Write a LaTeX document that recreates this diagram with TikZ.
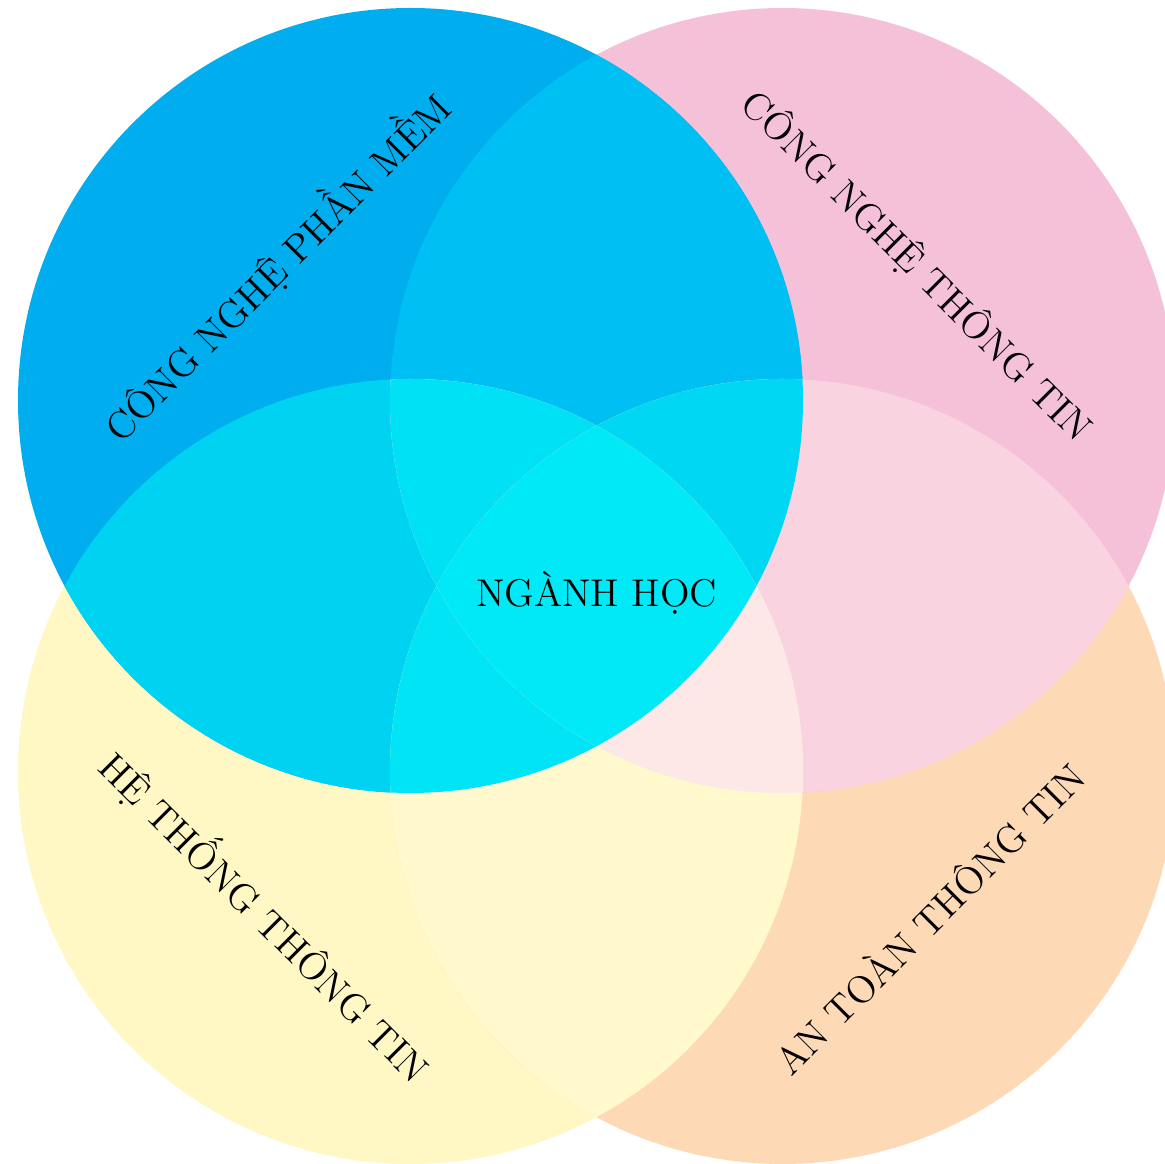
\documentclass[tikz,border=0pt]{standalone}
\usepackage{tikz}
\usetikzlibrary{calc}

\definecolor{cB}{HTML}{00ADEE}
\definecolor{cP}{HTML}{F5C1D9}
\definecolor{cY}{HTML}{FFF8C4}
\definecolor{cO}{HTML}{FDD9B5}
\definecolor{cBP}{HTML}{00C0F3}
\definecolor{cBY}{HTML}{00D2F1}
\definecolor{cPO}{HTML}{F9D4E0}
\definecolor{cYO}{HTML}{FFF9CD}
\definecolor{cBPY}{HTML}{00E1F5}
\definecolor{cBPO}{HTML}{00D8F3}
\definecolor{cBYO}{HTML}{00E4F5}
\definecolor{cPYO}{HTML}{FDE7E7}
\definecolor{cAll}{HTML}{00E9F7}

\newcommand{\rad}{3.925}
\newcommand{\circB}{(B) circle (\rad)}
\newcommand{\circP}{(P) circle (\rad)}
\newcommand{\circY}{(Y) circle (\rad)}
\newcommand{\circO}{(O) circle (\rad)}

\begin{document}
\begin{tikzpicture}[
            field/.style={font=\fontsize{11}{13}\selectfont, text=black, inner sep=1pt},
            rise/.style={field, rotate=45},
            fall/.style={field, rotate=-45}
        ]

        \useasboundingbox (0,0) rectangle (11.65,-11.64);

        \coordinate (B) at (4.105,-4.005);
        \coordinate (P) at (7.825,-4.005);
        \coordinate (Y) at (4.105,-7.715);
        \coordinate (O) at (7.825,-7.715);

        % single circles
        \fill[cY] \circY;
        \fill[cO] \circO;
        \fill[cP] \circP;
        \fill[cB] \circB;

        % pairs
        \begin{scope} \clip \circB; \fill[cBP] \circP; \end{scope}
        \begin{scope} \clip \circB; \fill[cBY] \circY; \end{scope}
        \begin{scope} \clip \circB; \fill[cBYO] \circO; \end{scope}
        \begin{scope} \clip \circP; \fill[cPO] \circO; \end{scope}
        \begin{scope} \clip \circP; \fill[cPYO] \circY; \end{scope}
        \begin{scope} \clip \circY; \fill[cYO] \circO; \end{scope}

        % triples
        \begin{scope} \clip \circB; \clip \circP; \fill[cBPY] \circY; \end{scope}
        \begin{scope} \clip \circB; \clip \circP; \fill[cBPO] \circO; \end{scope}
        \begin{scope} \clip \circB; \clip \circY; \fill[cBYO] \circO; \end{scope}
        \begin{scope} \clip \circP; \clip \circY; \fill[cPYO] \circO; \end{scope}

        % all four
        \begin{scope} \clip \circB; \clip \circP; \clip \circY; \fill[cAll] \circO; \end{scope}

        \node[rise] (cnpm) at ($(B)+(135:1.9)$) {CÔNG NGHỆ PHẦN MỀM};
        \node[fall] (cntt) at ($(P)+(45:1.9)$) {CÔNG NGHỆ THÔNG TIN};
        \node[fall] (httt) at ($(Y)+(225:2.04)$) {HỆ THỐNG THÔNG TIN};
        \node[rise] (attt) at ($(O)+(315:2.06)$) {AN TOÀN THÔNG TIN};
        \node[field] (nganh) at (5.965,-5.93) {NGÀNH HỌC};

    \end{tikzpicture}
\end{document}
